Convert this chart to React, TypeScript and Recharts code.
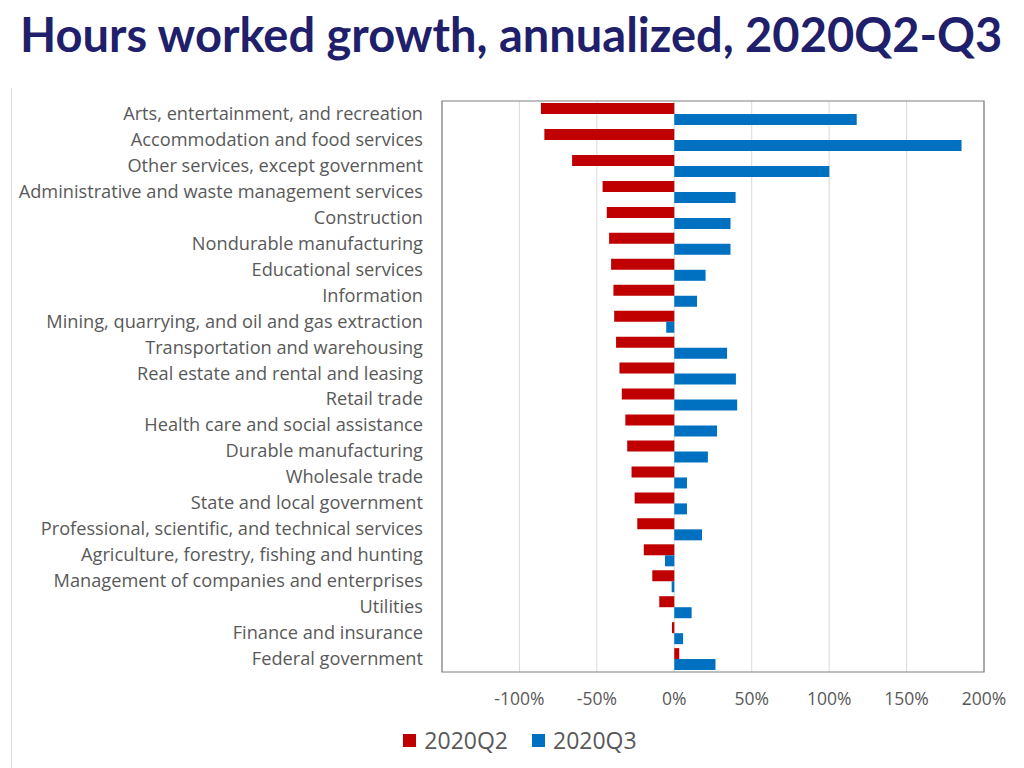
import React from 'react';
import { BarChart, Bar, XAxis, YAxis, CartesianGrid, Legend, ReferenceArea } from 'recharts';

const industries = [
  'Arts, entertainment, and recreation',
  'Accommodation and food services',
  'Other services, except government',
  'Administrative and waste management services',
  'Construction',
  'Nondurable manufacturing',
  'Educational services',
  'Information',
  'Mining, quarrying, and oil and gas extraction',
  'Transportation and warehousing',
  'Real estate and rental and leasing',
  'Retail trade',
  'Health care and social assistance',
  'Durable manufacturing',
  'Wholesale trade',
  'State and local government',
  'Professional, scientific, and technical services',
  'Agriculture, forestry, fishing and hunting',
  'Management of companies and enterprises',
  'Utilities',
  'Finance and insurance',
  'Federal government',
];

const q2Growth = [
  -86.1, -83.9, -66.0, -46.3, -43.6, -42.1, -40.8, -39.3, -38.8, -37.6, -35.4,
  -33.9, -31.6, -30.4, -27.6, -25.6, -23.9, -19.7, -14.2, -9.7, -1.5, 3.2,
];

const q3Growth = [
  117.8, 185.5, 100.1, 39.6, 36.3, 36.3, 20.2, 14.7, -5.2, 34.1, 39.8,
  40.6, 27.6, 21.7, 8.2, 8.2, 17.9, -6.0, -1.7, 11.2, 5.7, 26.6,
];

const xTicks = [-150, -100, -50, 0, 50, 100, 150, 200];

const FONT = '"Open Sans", Lato, sans-serif';
const TEXT_GRAY = '#595959';

const data = industries.map((name, i) => ({
  name,
  q2: q2Growth[i],
  q3: q3Growth[i],
}));

const XTick = ({ x, y, payload }: any) => {
  if (payload.value === -150) return null;
  return (
    <text x={x} y={y} dy={25} textAnchor="middle" fill={TEXT_GRAY} fontSize={17.5} fontFamily={FONT}>
      {payload.value}%
    </text>
  );
};

const YTick = ({ x, y, payload }: any) => (
  <text x={x} y={y} dx={-11} dy={6} textAnchor="end" fill={TEXT_GRAY} fontSize={18.2} fontFamily={FONT}>
    {payload.value}
  </text>
);

const LegendContent = () => (
  <div style={{ display: 'flex', justifyContent: 'center', gap: 24, fontFamily: FONT, fontSize: 23, color: TEXT_GRAY, paddingLeft: 46, paddingTop: 12 }}>
    <span style={{ display: 'flex', alignItems: 'center' }}>
      <span style={{ width: 13, height: 13, background: '#C00000', marginRight: 8 }} />
      2020Q2
    </span>
    <span style={{ display: 'flex', alignItems: 'center' }}>
      <span style={{ width: 13, height: 13, background: '#0070C0', marginRight: 8 }} />
      2020Q3
    </span>
  </div>
);

export default function App() {
  return (
    <div style={{ position: 'absolute', left: 0, top: 0, width: 1024, height: 768, background: '#fff', overflow: 'hidden' }}>
      <div
        style={{
          position: 'absolute',
          left: 20,
          top: 6,
          fontFamily: 'Lato, sans-serif',
          fontWeight: 700,
          fontSize: 47,
          color: '#1F1F6B',
          whiteSpace: 'nowrap',
        }}
      >
        Hours worked growth, annualized, 2020Q2-Q3
      </div>
      <div style={{ position: 'absolute', left: 11, top: 88, width: 1, height: 680, background: '#d9d9d9' }} />
      <div style={{ position: 'absolute', left: 0, top: 0 }}>
        <BarChart
          width={1024}
          height={768}
          data={data}
          layout="vertical"
          margin={{ top: 101, right: 40, bottom: 16, left: 10 }}
          barCategoryGap="8%"
          barGap={0}
        >
          <CartesianGrid horizontal={false} stroke="#d9d9d9" />
          <XAxis
            type="number"
            domain={[-150, 200]}
            ticks={xTicks}
            tick={<XTick />}
            tickLine={false}
            axisLine={false}
            height={40}
            interval={0}
          />
          <YAxis
            type="category"
            dataKey="name"
            width={432}
            tick={<YTick />}
            tickLine={false}
            axisLine={false}
            interval={0}
          />
          <ReferenceArea x1={-150} x2={200} fill="none" stroke="#7f7f7f" strokeWidth={1.2} ifOverflow="visible" />
          <Bar dataKey="q2" name="2020Q2" fill="#C00000" isAnimationActive={false} />
          <Bar dataKey="q3" name="2020Q3" fill="#0070C0" isAnimationActive={false} />
          <Legend content={<LegendContent />} verticalAlign="bottom" height={40} />
        </BarChart>
      </div>
    </div>
  );
}
